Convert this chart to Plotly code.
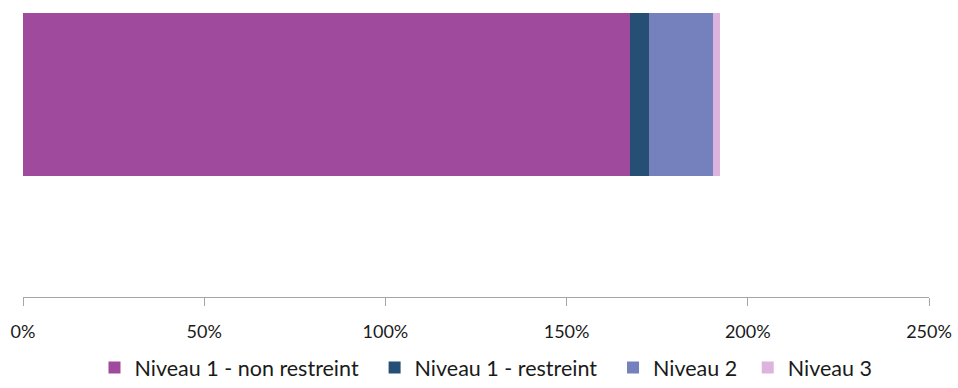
import plotly.graph_objects as go

# Single stacked bar: share by level (in %)
categories = ["Total"]
series_names = ["Niveau 1 - non restreint", "Niveau 1 - restreint", "Niveau 2", "Niveau 3"]
series_values = [[167.4], [5.2], [17.9], [1.9]]
series_colors = ["#9F4A9C", "#264F75", "#7581BD", "#DDB4DD"]
tick_values = [0, 50, 100, 150, 200, 250]
tick_labels = ["0%", "50%", "100%", "150%", "200%", "250%"]

FONT = "Lato, 'Open Sans', sans-serif"
# extra room after each legend entry (non-breaking spaces)
legend_pads = [2, 2, 1, 0]

fig = go.Figure()
for name, vals, color, pad in zip(series_names, series_values, series_colors, legend_pads):
    fig.add_trace(go.Bar(
        y=categories,
        x=vals,
        name=name + "\u00a0" * pad,
        orientation="h",
        marker=dict(color=color, line=dict(width=0)),
        width=1.0,
    ))

fig.update_layout(
    barmode="stack",
    width=958,
    height=388,
    margin=dict(l=23, r=29, t=0, b=91),
    paper_bgcolor="white",
    plot_bgcolor="white",
    font=dict(family=FONT, size=18, color="#1a1a1a"),
    showlegend=True,
    legend=dict(
        orientation="h",
        xref="container",
        yref="container",
        x=0.5073,
        xanchor="center",
        y=-0.014,
        yanchor="bottom",
        font=dict(family=FONT, size=21.5, color="#1a1a1a"),
        traceorder="normal",
        tracegroupgap=0,
    ),
    xaxis=dict(
        range=[0, 250],
        tickmode="array",
        tickvals=tick_values,
        ticktext=tick_labels,
        showgrid=False,
        zeroline=False,
        showline=True,
        linecolor="#A6A6A6",
        linewidth=1,
        ticks="outside",
        ticklen=8,
        tickcolor="#A6A6A6",
        tickfont=dict(family=FONT, size=18, color="#1a1a1a"),
        ticklabelstandoff=10,
    ),
    yaxis=dict(
        range=[-1.245, 0.58],
        showticklabels=False,
        showgrid=False,
        zeroline=False,
        showline=False,
        ticks="",
    ),
)

fig.write_html("out.html")
